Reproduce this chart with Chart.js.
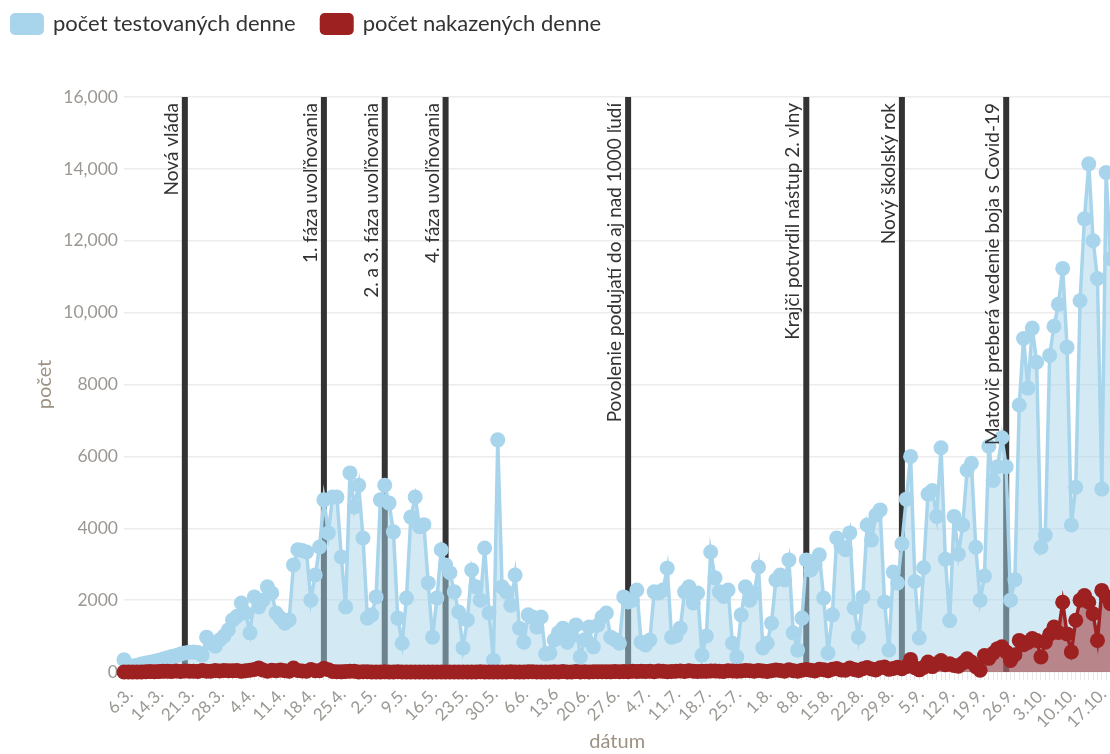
<!DOCTYPE html>
<html>
<head>
<meta charset="utf-8">
<title>Testovanie a nakazení</title>
<script src="https://cdn.jsdelivr.net/npm/chart.js@4.4.0/dist/chart.umd.min.js"></script>
<style>
  html, body { margin: 0; padding: 0; background: #fff; overflow: hidden; }
</style>
</head>
<body>
<canvas id="covid-chart" width="1118" height="754"></canvas>
<script>
/*////////////////////////////////
///            Data            ///
////////////////////////////////*/

// daily categories from 6.3., the source has no row for 7.3.
const days = [];
for (let d = new Date(2020, 2, 6); days.length < 228; d.setDate(d.getDate() + 1)) {
  if (d.getMonth() == 2 && d.getDate() == 7) continue;
  days.push(d.getDate() + '.' + (d.getMonth() + 1) + '.');
}

// one label every 7th category
const tickLabels = ['6.3.', '14.3.', '21.3.', '28.3.', '4.4.', '11.4.', '18.4.', '25.4.', '2.5.', '9.5.',
  '16.5.', '23.5.', '30.5.', '6.6.', '13.6', '20.6.', '27.6.', '4.7.', '11.7.', '18.7.', '25.7.',
  '1.8.', '8.8.', '15.8.', '22.8.', '29.8.', '5.9.', '12.9.', '19.9.', '26.9.', '3.10.', '10.10.', '17.10.'];

const tested = [
  340, 150, 170, 190, 220, 250, 270, 300, 330, 360,
  400, 430, 460, 500, 530, 550, 560, 540, 470, 970,
  800, 720, 890, 1000, 1170, 1450, 1550, 1920, 1640, 1090,
  2090, 1810, 2000, 2370, 2200, 1640, 1500, 1360, 1450, 2980,
  3400, 3380, 3340, 2000, 2700, 3480, 4790, 3870, 4870, 4870,
  3200, 1810, 5540, 4590, 5200, 3730, 1500, 1590, 2090, 4790,
  5200, 4700, 3900, 1500, 800, 2060, 4310, 4870, 4040, 4100,
  2480, 970, 2060, 3400, 2980, 2760, 2230, 1670, 670, 1450,
  2840, 2370, 2000, 3450, 1640, 330, 6460, 2370, 2230, 1860,
  2700, 1220, 830, 1590, 1530, 1250, 1530, 500, 530, 890,
  1100, 1220, 830, 1000, 1310, 420, 900, 1250, 700, 1300,
  1530, 1640, 970, 900, 800, 2090, 1950, 2000, 2280, 830,
  750, 890, 2230, 2200, 2280, 2890, 970, 1000, 1220, 2230,
  2370, 1920, 2200, 470, 1000, 3340, 2620, 2230, 2100, 2280,
  800, 420, 1590, 2370, 2000, 2200, 2920, 670, 800, 1360,
  2560, 2700, 2560, 3120, 1090, 610, 1500, 3120, 2840, 3000,
  3260, 2060, 530, 1590, 3730, 3500, 3400, 3870, 1780, 970,
  2090, 4090, 3670, 4370, 4510, 1950, 610, 2780, 2480, 3570,
  4810, 6000, 2520, 950, 2900, 4950, 5050, 4330, 6240, 3140,
  1430, 4330, 3280, 4090, 5620, 5810, 3470, 2000, 2670, 6280,
  5330, 5710, 6520, 5710, 2000, 2570, 7430, 9280, 7900, 9570,
  8620, 3470, 3810, 8810, 9620, 10230, 11230, 9040, 4090, 5140,
  10330, 12610, 14140, 12000, 10950, 5090, 13900, 11500
];

const infected = [
  1, 2, 0, 2, 3, 7, 11, 10, 11, 22,
  18, 15, 29, 14, 31, 19, 24, 12, 40, 23,
  22, 45, 26, 40, 34, 37, 39, 18, 34, 48,
  69, 114, 53, 23, 52, 33, 58, 37, 24, 108,
  40, 26, 21, 70, 37, 37, 105, 65, 12, 7,
  4, 14, 19, 20, 3, 6, 8, 3, 1, 2,
  4, 1, 2, 6, 3, 0, 1, 0, 2, 0,
  2, 1, 3, 0, 1, 2, 3, 1, 0, 0,
  1, 0, 7, 2, 1, 0, 3, 1, 2, 5,
  1, 0, 2, 4, 6, 3, 0, 1, 2, 4,
  3, 12, 0, 1, 11, 2, 5, 3, 6, 8,
  10, 7, 4, 17, 5, 11, 9, 19, 13, 18,
  12, 24, 9, 27, 18, 9, 14, 21, 28, 17,
  33, 24, 13, 24, 18, 31, 27, 22, 14, 36,
  26, 19, 30, 45, 33, 19, 41, 28, 17, 35,
  58, 40, 21, 66, 35, 23, 50, 70, 52, 28,
  80, 61, 33, 75, 96, 58, 48, 110, 72, 42,
  90, 123, 84, 58, 118, 140, 74, 100, 131, 90,
  150, 350, 120, 60, 130, 280, 150, 230, 320, 200,
  230, 180, 160, 250, 370, 280, 150, 50, 460, 380,
  520, 650, 700, 560, 320, 480, 880, 760, 820, 930,
  880, 420, 830, 1050, 1250, 1100, 1940, 1060, 560, 1440,
  2000, 2130, 1940, 1620, 880, 2270, 2100, 1900
];

const eventLabels = ['Nová vláda', '1. fáza uvoľňovania', '2. a 3. fáza uvoľňovania', '4. fáza uvoľňovania',
  'Povolenie podujatí do aj nad 1000 ľudí', 'Krajči potvrdil nástup 2. vlny', 'Nový školský rok',
  'Matovič preberá vedenie boja s Covid-19'];
const eventDays = ['21.3.', '22.4.', '6.5.', '20.5.', '1.7.', '11.8.', '2.9.', '26.9.'];

/*////////////////////////////////
///          Plugins           ///
////////////////////////////////*/

// vertical event lines go under the fills, their texts on top
const eventLines = {
  id: 'eventLines',
  beforeDatasetsDraw(chart) {
    const {ctx, chartArea, scales: {x}} = chart;
    ctx.save();
    ctx.strokeStyle = '#333';
    ctx.lineWidth = 6;
    eventDays.forEach(day => {
      let px = x.getPixelForValue(days.indexOf(day));
      ctx.beginPath();
      ctx.moveTo(px, chartArea.top);
      ctx.lineTo(px, chartArea.bottom);
      ctx.stroke();
    });
    ctx.restore();
  },
  afterDatasetsDraw(chart) {
    const {ctx, chartArea, scales: {x}} = chart;
    ctx.save();
    ctx.font = '19px Lato';
    ctx.fillStyle = '#333';
    ctx.textAlign = 'right';
    ctx.textBaseline = 'alphabetic';
    eventDays.forEach((day, i) => {
      let px = x.getPixelForValue(days.indexOf(day));
      ctx.save();
      ctx.translate(px - 7, chartArea.top + 6);
      ctx.rotate(-Math.PI / 2);
      ctx.fillText(eventLabels[i], 0, 0);
      ctx.restore();
    });
    ctx.restore();
  }
};

const legendBoxes = {
  id: 'legendBoxes',
  afterDraw(chart) {
    const ctx = chart.ctx;
    let x = 10;
    ctx.save();
    ctx.font = '22px Lato';
    ctx.textBaseline = 'middle';
    chart.data.datasets.forEach(ds => {
      ctx.fillStyle = ds.borderColor;
      ctx.beginPath();
      if (ctx.roundRect) {
        ctx.roundRect(x, 13, 34, 22, 5);
      } else {
        ctx.rect(x, 13, 34, 22);
      }
      ctx.fill();
      ctx.fillStyle = '#333';
      ctx.fillText(ds.label, x + 43, 24);
      x += 43 + ctx.measureText(ds.label).width + 24;
    });
    ctx.restore();
  }
};

/*////////////////////////////////
///           Chart            ///
////////////////////////////////*/

Chart.defaults.font.family = 'Lato';

const axisGrey = '#9b9893';
const titleTan = '#9d9183';

let covid = document.getElementById('covid-chart').getContext('2d');
let covidChart = new Chart(covid, {
  type: 'line',
  data: {
    labels: days,
    datasets: [{
      label: 'počet testovaných denne',
      data: tested,
      borderColor: '#a8d5ec',
      backgroundColor: 'rgba(168, 213, 236, 0.5)',
      pointBackgroundColor: '#a8d5ec',
      pointBorderWidth: 0,
      pointRadius: 7.5,
      borderWidth: 3.5,
      fill: 'origin',
      order: 1,
      clip: 10
    }, {
      label: 'počet nakazených denne',
      data: infected,
      borderColor: '#9e2121',
      backgroundColor: 'rgba(158, 33, 33, 0.5)',
      pointBackgroundColor: '#9e2121',
      pointBorderWidth: 0,
      pointRadius: 7.5,
      borderWidth: 3.5,
      fill: 'origin',
      order: 0,
      clip: 10
    }]
  },
  options: {
    responsive: false,
    animation: false,
    layout: {
      padding: { top: 97, left: 0, right: 0, bottom: 0 }
    },
    scales: {
      x: {
        offset: false,
        border: { display: false },
        grid: { drawOnChartArea: false, tickLength: 8, color: '#e8e8e8' },
        ticks: {
          autoSkip: false,
          minRotation: 45,
          maxRotation: 45,
          padding: 4,
          labelOffset: 6,
          color: axisGrey,
          font: { size: 17 },
          callback: (value, index) => index % 7 == 0 ? tickLabels[index / 7] : ''
        },
        title: {
          display: true,
          text: 'dátum',
          color: titleTan,
          font: { size: 20 },
          padding: { top: 0, bottom: 0 }
        },
        afterFit: (scale) => {
          scale.height = 82;
          scale.paddingRight = 0;
        }
      },
      y: {
        min: 0,
        max: 16000,
        border: { display: false },
        grid: { color: '#ececec', lineWidth: 1.5, drawTicks: false },
        ticks: {
          stepSize: 2000,
          padding: 6,
          color: axisGrey,
          font: { size: 17.5 },
          callback: (v) => v >= 10000 ? v.toLocaleString('en-US') : String(v)
        },
        title: {
          display: true,
          text: 'počet',
          color: titleTan,
          font: { size: 20 },
          padding: { top: 33, bottom: 0 }
        },
        afterFit: (scale) => {
          scale.width = 124;
        }
      }
    },
    plugins: {
      legend: { display: false },
      tooltip: { enabled: false }
    }
  },
  plugins: [eventLines, legendBoxes]
});
</script>
</body>
</html>
